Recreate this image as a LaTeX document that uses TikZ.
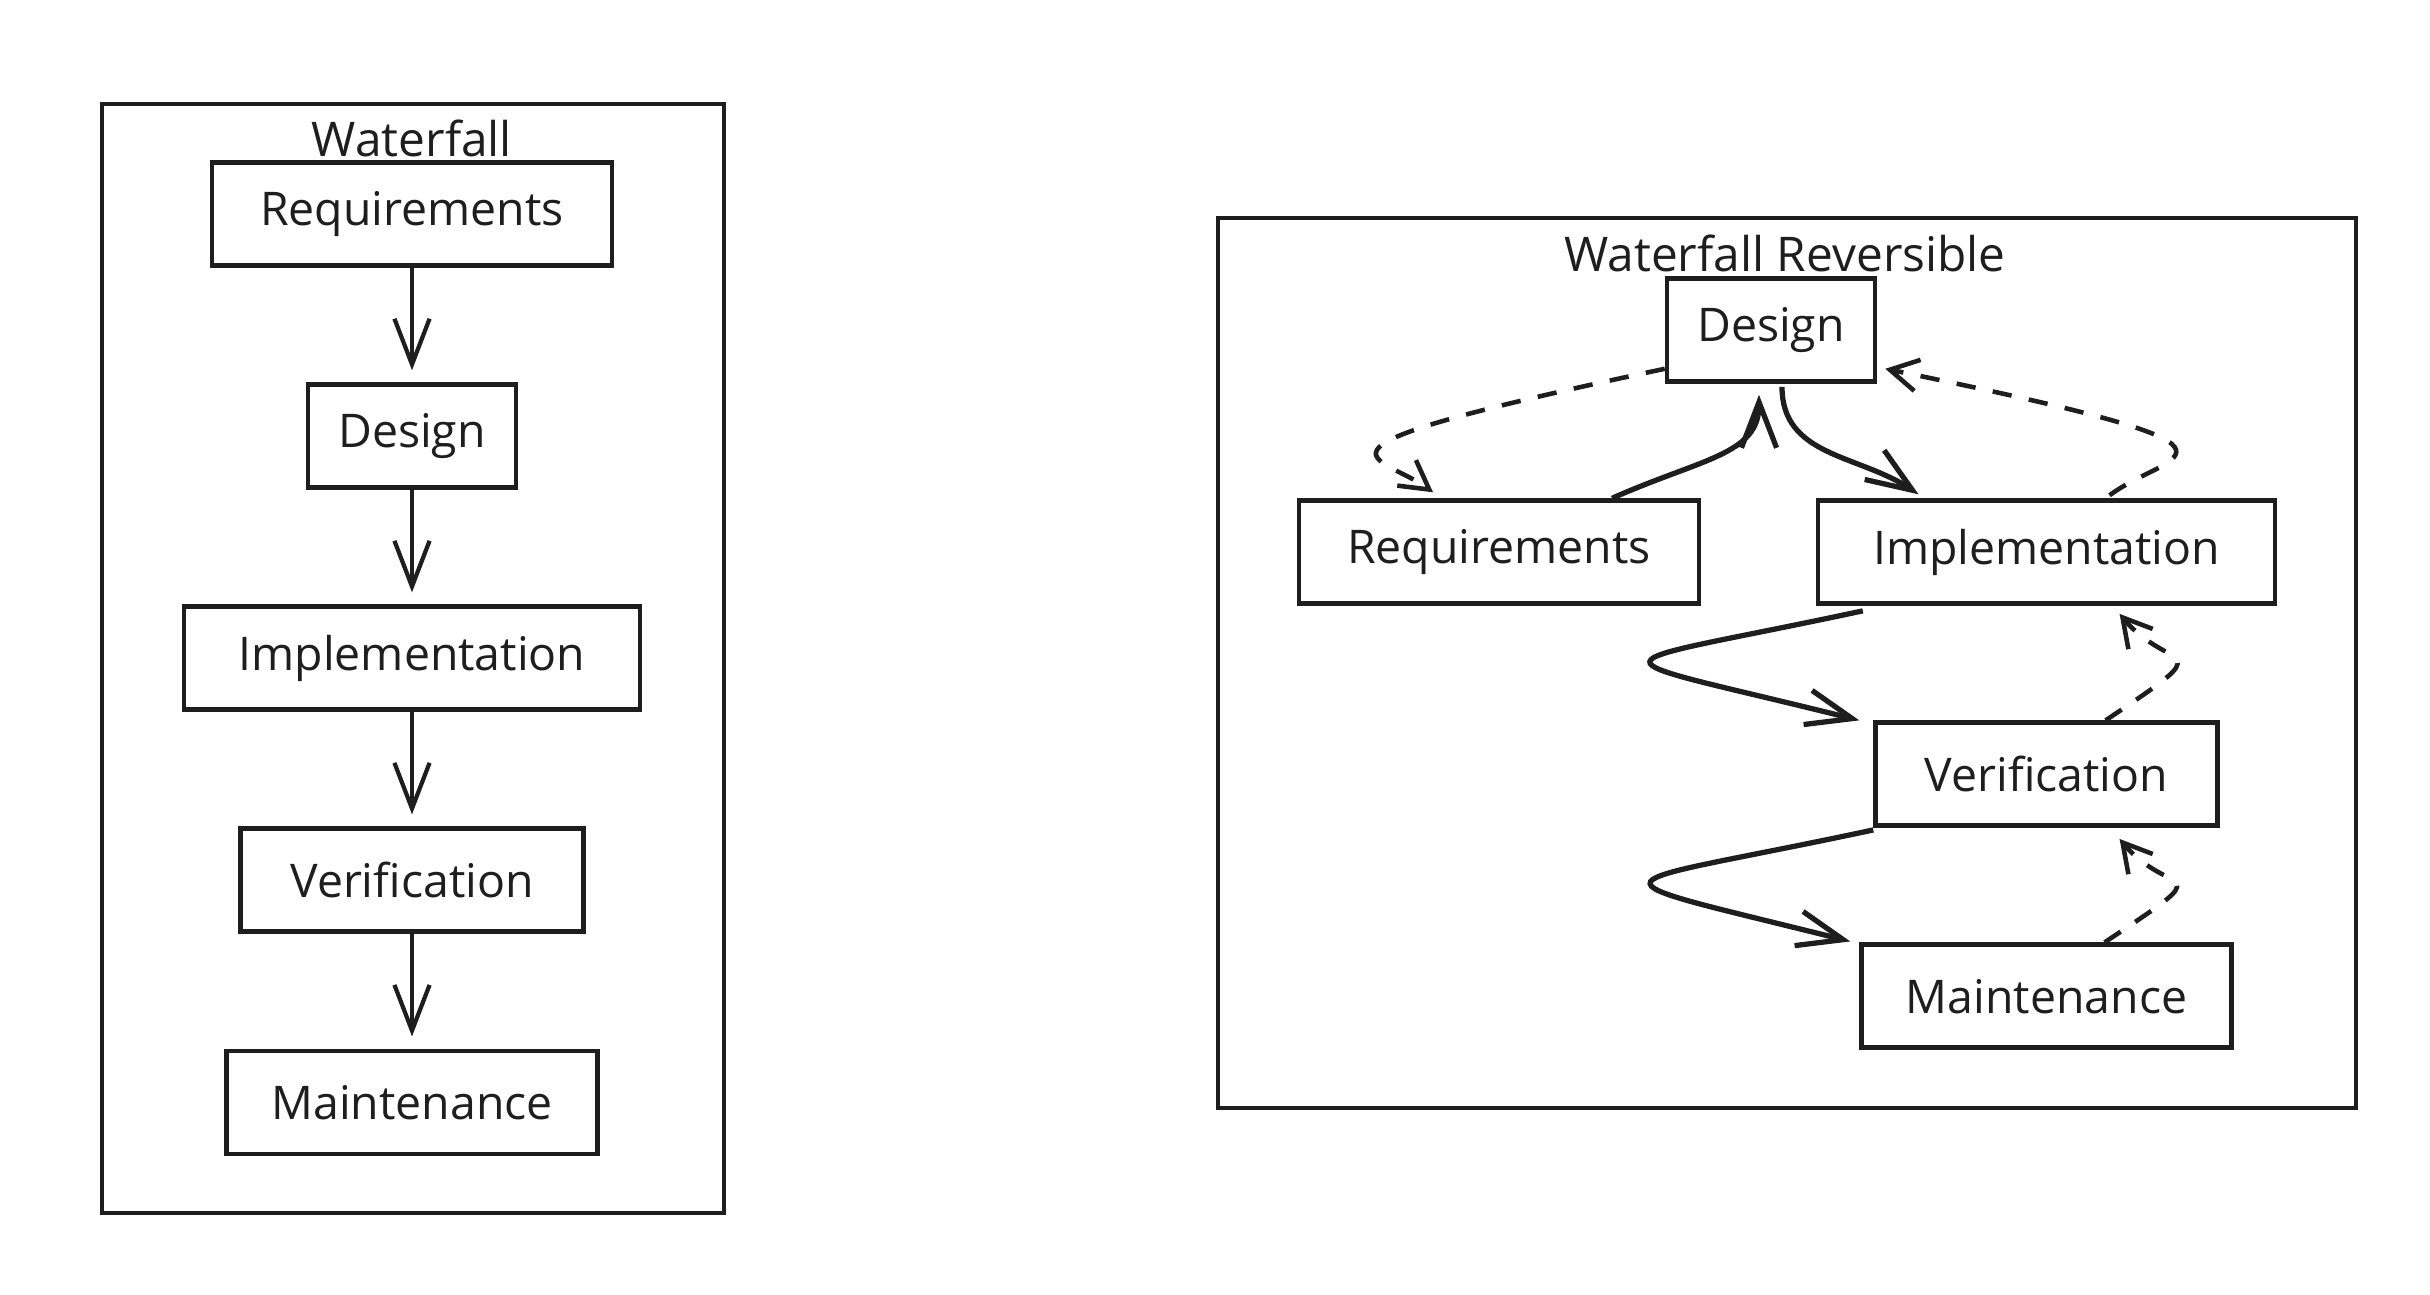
\documentclass[tikz,border=0pt]{standalone}
\usepackage{fontspec}
\setmainfont{Open Sans}
\usepackage{xcolor}
\definecolor{ink}{HTML}{1E1E1E}
\usetikzlibrary{arrows.meta, positioning, calc}

\begin{document}
\begin{tikzpicture}[
    x=0.1mm, y=-0.1mm,
    node distance=11.45mm,
    phase/.style={rectangle, minimum width=#1, minimum height=10.3mm, inner sep=0pt, text centered, draw=ink, text=ink, line width=1.3pt, font=\fontsize{13.2pt}{16pt}\selectfont},
    heading/.style={inner sep=0pt, text=ink, font=\fontsize{13.6pt}{16pt}\selectfont},
    arrow/.style={draw=ink, line width=1.2pt, -{Straight Barb[length=13pt, width=10pt]}},
    bold arrow/.style={arrow, line width=1.5pt},
    backarrow/.style={draw=ink, line width=1.3pt, dash pattern=on 5.5pt off 5pt, -{Straight Barb[length=8pt, width=9pt]}},
    frame/.style={draw=ink, line width=1.1pt}
]
    \useasboundingbox (0,0) rectangle (2430,1294);
    \draw [frame] (102,104) rectangle (724,1213);
    \draw [frame] (1218,218) rectangle (2356,1108);

    \node (reqL) [phase=40mm] at (412,214) {Requirements};
    \node (dsgL) [phase=20.8mm, below=of reqL] {Design};
    \node (impL) [phase=45.6mm, below=of dsgL] {Implementation};
    \node (verL) [phase=34.3mm, below=of impL] {Verification};
    \node (mntL) [phase=37.1mm, below=of verL] {Maintenance};
    \node (titleL) [heading, above=0.3mm of reqL] {Waterfall};

    \draw [arrow, shorten >=1.2mm] (reqL) -- (dsgL);
    \draw [arrow, shorten >=1.2mm] (dsgL) -- (impL);
    \draw [arrow, shorten >=1.2mm] (impL) -- (verL);
    \draw [arrow, shorten >=1.2mm] (verL) -- (mntL);

    \node (dsgR) [phase=20.8mm] at (1771,330) {Design};
    \node (reqR) [phase=40mm, below=of dsgR, xshift=-27.2mm] {Requirements};
    \node (impR) [phase=45.7mm, right=of reqR] {Implementation};
    \node (verR) [phase=34.2mm, below=of impR] {Verification};
    \node (mntR) [phase=37mm, below=of verR] {Maintenance};
    \node (titleR) [heading, above=0.4mm of dsgR, xshift=1.4mm] {Waterfall Reversible};

    \draw [bold arrow] ($(reqR.north)+(113,0)$) .. controls +(90,-40) and +(0,60) .. ($(dsgR.south)+(-12,11)$);
    \draw [bold arrow] ($(dsgR.south)+(11,3)$) .. controls +(0,70) and +(-60,-40) .. ($(impR.north)+(-128,-4)$);
    \draw [backarrow] ($(dsgR.south west)+(0,-15)$) .. controls +(-397,84) and +(-53,-39) .. ($(reqR.north)+(-66,-6)$);
    \draw [backarrow] ($(impR.north)+(63,-3)$) .. controls +(60,-45) and +(410,84) .. ($(dsgR.south east)+(8,-15)$);
    \draw [bold arrow] ($(impR.south west)+(47,5)$) .. controls +(-280,60) and +(-280,-70) .. ($(verR.north west)+(-14,0)$);
    \draw [bold arrow] ($(verR.south west)+(0,2)$) .. controls +(-280,60) and +(-280,-70) .. ($(mntR.north west)+(-9,-1)$);
    \draw [backarrow] ($(verR.north)+(59,0)$) .. controls +(120,-80) and +(50,60) .. ($(impR.south)+(73,8)$);
    \draw [backarrow] ($(mntR.north)+(58,0)$) .. controls +(120,-80) and +(50,60) .. ($(verR.south)+(73,11)$);
\end{tikzpicture}
\end{document}
